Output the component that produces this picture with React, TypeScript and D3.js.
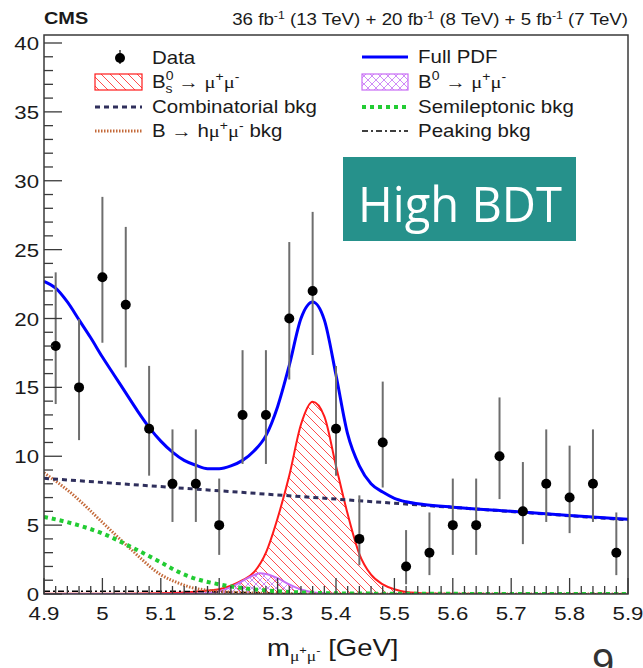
import React from 'react';
import * as d3 from 'd3';

// ---- data ----
const dataMass = [4.92, 4.96, 5.0, 5.04, 5.08, 5.12, 5.16, 5.2, 5.24, 5.28, 5.32, 5.36, 5.4, 5.44, 5.48, 5.52, 5.56, 5.6, 5.64, 5.68, 5.72, 5.76, 5.8, 5.84, 5.88];
const dataCounts = [18, 15, 23, 21, 12, 8, 8, 5, 13, 13, 20, 22, 12, 4, 11, 2, 3, 5, 5, 10, 6, 8, 7, 8, 3];
const dataLow = [13.79, 11.17, 18.24, 16.45, 8.59, 5.23, 5.23, 2.84, 9.44, 9.44, 15.57, 17.35, 8.59, 2.09, 7.73, 0.71, 1.37, 2.84, 2.84, 6.89, 3.62, 5.23, 4.42, 5.23, 1.37];
const dataHigh = [23.35, 19.96, 28.83, 26.65, 16.56, 11.95, 11.95, 8.38, 17.7, 17.7, 25.55, 27.74, 16.56, 7.16, 15.42, 4.64, 5.92, 8.38, 8.38, 14.27, 9.58, 11.95, 10.77, 11.95, 5.92];

const fullMass = [4.9, 4.92, 4.94, 4.96, 4.98, 5.0, 5.02, 5.04, 5.06, 5.08, 5.1, 5.12, 5.14, 5.16, 5.18, 5.2, 5.22, 5.24, 5.26, 5.28, 5.3, 5.32, 5.34, 5.36, 5.38, 5.4, 5.42, 5.44, 5.46, 5.48, 5.5, 5.52, 5.55, 5.6, 5.7, 5.8, 5.9];
const fullVal = [22.7, 22.2, 21.2, 19.9, 18.6, 17.2, 15.9, 14.6, 13.3, 12.1, 11.1, 10.3, 9.7, 9.35, 9.1, 9.1, 9.3, 9.7, 10.4, 11.5, 13.6, 16.6, 20.0, 21.2, 19.9, 15.9, 11.6, 9.3, 8.0, 7.4, 6.95, 6.7, 6.5, 6.3, 6.0, 5.7, 5.42];

const bsMass = [4.9, 5.0, 5.1, 5.14, 5.18, 5.2, 5.22, 5.24, 5.26, 5.28, 5.3, 5.32, 5.34, 5.36, 5.38, 5.4, 5.42, 5.44, 5.46, 5.48, 5.5, 5.52, 5.56, 5.6, 5.9];
const bsVal = [0.01, 0.02, 0.05, 0.1, 0.25, 0.35, 0.6, 1.0, 1.6, 3.0, 5.5, 8.6, 12.3, 13.95, 12.9, 9.3, 5.8, 2.9, 1.4, 0.7, 0.35, 0.15, 0.04, 0.01, 0];

const b0Mass = [4.9, 5.1, 5.16, 5.18, 5.2, 5.22, 5.24, 5.26, 5.27, 5.28, 5.3, 5.32, 5.34, 5.36, 5.38, 5.42, 5.9];
const b0Val = [0, 0, 0.02, 0.06, 0.2, 0.5, 0.95, 1.38, 1.5, 1.45, 1.15, 0.7, 0.33, 0.12, 0.04, 0, 0];

const combMass = [4.9, 5.9];
const combVal = [8.4, 5.38];

const semiMass = [4.9, 4.95, 5.0, 5.05, 5.1, 5.133, 5.15, 5.2, 5.236, 5.3, 5.35, 5.4, 5.5, 5.6, 5.9];
const semiVal = [5.6, 5.1, 4.4, 3.4, 2.3, 1.55, 1.25, 0.7, 0.45, 0.2, 0.1, 0.05, 0.02, 0.01, 0];

const hmmMass = [4.9, 4.95, 5.0, 5.05, 5.1, 5.133, 5.15, 5.2, 5.25, 5.3, 5.4, 5.9];
const hmmVal = [8.8, 7.2, 5.2, 3.2, 1.4, 0.75, 0.5, 0.2, 0.08, 0.03, 0, 0];

const peakMass = [4.9, 5.0, 5.1, 5.2, 5.3, 5.4, 5.9];
const peakVal = [0.2, 0.2, 0.2, 0.15, 0.05, 0, 0];

const yTickValues = [0, 5, 10, 15, 20, 25, 30, 35, 40];
const yTickLabels = ['0', '5', '10', '15', '20', '25', '30', '35', '40'];
const xTickValues = [4.9, 5.0, 5.1, 5.2, 5.3, 5.4, 5.5, 5.6, 5.7, 5.8, 5.9];
const xTickLabels = ['4.9', '5', '5.1', '5.2', '5.3', '5.4', '5.5', '5.6', '5.7', '5.8', '5.9'];

const SX = 1.17;
const FONT = '"Liberation Sans", Arial, Helvetica, sans-serif';
const SERIF = '"Liberation Serif", "Times New Roman", serif';

const C_COMB = '#2f2f5c';
const C_HMM = '#c46a3a';
const C_SEMI = '#22cc33';
const C_BLUE = '#0000ff';
const C_RED = '#ff1a1a';
const C_VIO = '#c86cf5';

function ST({ x, y, size, anchor = 'start', weight = 'normal', fill = '#1a1a1a', children }: any) {
  return (
    <text transform={`translate(${x},${y}) scale(${SX},1)`} fontSize={size} textAnchor={anchor}
      fontWeight={weight} fill={fill} fontFamily={FONT}>{children}</text>
  );
}

export default function App() {
  const x = d3.scaleLinear().domain([4.9, 5.9]).range([44, 628]);
  const y = d3.scaleLinear().domain([0, 40]).range([594, 43]);
  const X0 = 44, X1 = 628, Y0 = 594, YT = 35;

  const mkLine = (ms: number[], vs: number[]) =>
    d3.line<number>().x((_, i) => x(ms[i])).y((_, i) => y(vs[i])).curve(d3.curveMonotoneX)(ms) || '';
  const mkArea = (ms: number[], vs: number[]) =>
    d3.area<number>().x((_, i) => x(ms[i])).y0(y(0)).y1((_, i) => y(vs[i])).curve(d3.curveMonotoneX)(ms) || '';

  const yMinor = d3.range(0, 41);
  const xMinor = d3.range(0, 51).map(i => 4.9 + i * 0.02);

  return (
    <svg width={643} height={668} style={{ position: 'absolute', left: 0, top: 0, background: '#fff' }}>
      <defs>
        <clipPath id="plot">
          <rect x={X0} y={YT} width={X1 - X0} height={Y0 - YT} />
        </clipPath>
        <pattern id="hatchRed" width="9" height="9" patternUnits="userSpaceOnUse">
          <path d="M-1,-1 L10,10 M-10,-1 L1,10 M8,-1 L19,10" stroke="#ff4d4d" strokeWidth="1" />
        </pattern>
        <pattern id="hatchVio" width="8" height="8" patternUnits="userSpaceOnUse">
          <path d="M0,0 L8,8 M0,8 L8,0" stroke="#cf8cf7" strokeWidth="1" />
        </pattern>
      </defs>

      {/* header */}
      <ST x={44} y={24} size={17} weight="bold">CMS</ST>
      <ST x={628} y={25} size={16} anchor="end">
        36 fb<tspan fontSize={10.5} dy={-6}>-1</tspan><tspan dy={6}> (13 TeV) + 20 fb</tspan>
        <tspan fontSize={10.5} dy={-6}>-1</tspan><tspan dy={6}> (8 TeV) + 5 fb</tspan>
        <tspan fontSize={10.5} dy={-6}>-1</tspan><tspan dy={6}> (7 TeV)</tspan>
      </ST>

      {/* curves */}
      <g clipPath="url(#plot)">
        <path d={mkArea(bsMass, bsVal)} fill="url(#hatchRed)" />
        <path d={mkArea(b0Mass, b0Val)} fill="url(#hatchVio)" />
        <path d={mkLine(bsMass, bsVal)} fill="none" stroke={C_RED} strokeWidth={2} />
        <path d={mkLine(b0Mass, b0Val)} fill="none" stroke={C_VIO} strokeWidth={2} />
        <path d={mkLine(peakMass, peakVal)} fill="none" stroke="#000" strokeWidth={1.5} strokeDasharray="6 3 2 3" />
        <path d={mkLine(hmmMass, hmmVal)} fill="none" stroke={C_HMM} strokeWidth={3} strokeDasharray="1.5 1.5" />
        <path d={mkLine(semiMass, semiVal)} fill="none" stroke={C_SEMI} strokeWidth={4} strokeDasharray="4 4" />
        <path d={mkLine(combMass, combVal)} fill="none" stroke={C_COMB} strokeWidth={3} strokeDasharray="5 4" />
        <path d={mkLine(fullMass, fullVal)} fill="none" stroke={C_BLUE} strokeWidth={3} />
        {dataMass.map((m, i) => (
          <g key={i}>
            <line x1={x(m)} x2={x(m)} y1={y(dataLow[i])} y2={y(dataHigh[i])} stroke="#6e6e6e" strokeWidth={2} />
            <circle cx={x(m)} cy={y(dataCounts[i])} r={5} fill="#000" />
          </g>
        ))}
      </g>

      {/* frame */}
      <rect x={X0} y={YT} width={X1 - X0} height={Y0 - YT} fill="none" stroke="#3a3a3a" strokeWidth={1.5} />

      {/* y ticks */}
      {yMinor.map(v => (
        <line key={'yt' + v} x1={X0} x2={X0 + (v % 5 === 0 ? 18 : 9)} y1={y(v)} y2={y(v)} stroke="#3a3a3a" strokeWidth={1.3} />
      ))}
      {yTickValues.map((v, i) => (
        <ST key={'yl' + v} x={39} y={y(v) + 7} size={19} anchor="end">{yTickLabels[i]}</ST>
      ))}
      {/* x ticks */}
      {xMinor.map((m, i) => (
        <line key={'xt' + i} x1={x(m)} x2={x(m)} y1={Y0} y2={Y0 - (i % 5 === 0 ? 16 : 8)} stroke="#3a3a3a" strokeWidth={1.3} />
      ))}
      {xTickValues.map((m, i) => (
        <ST key={'xl' + i} x={x(m)} y={620} size={19} anchor="middle">{xTickLabels[i]}</ST>
      ))}

      {/* x axis title */}
      <ST x={267} y={656} size={23.5}>
        m<tspan fontSize={15} dy={5} fontFamily={SERIF}>μ</tspan><tspan fontSize={11} dy={-7}>+</tspan>
        <tspan fontSize={15} dy={7} fontFamily={SERIF}>μ</tspan><tspan fontSize={11} dy={-7}>-</tspan>
        <tspan dy={2}>{'\u00A0[GeV]'}</tspan>
      </ST>

      {/* legend left column */}
      <line x1={120} x2={120} y1={50} y2={64} stroke="#6e6e6e" strokeWidth={2} />
      <circle cx={120} cy={58} r={5} fill="#000" />
      <ST x={152} y={64} size={17.5}>Data</ST>

      <rect x={95} y={74} width={47} height={16} fill="url(#hatchRed)" stroke={C_RED} strokeWidth={1.2} />
      <ST x={152} y={88} size={17.5}>
        B<tspan fontSize={12} dy={-8}>0</tspan><tspan fontSize={12} dx={-6.7} dy={13}>s</tspan>
        <tspan dy={-5}>{' \u2192 '}</tspan><tspan fontFamily={SERIF}>μ</tspan>
        <tspan fontSize={12} dy={-7}>+</tspan><tspan fontFamily={SERIF} dy={7}>μ</tspan><tspan fontSize={12} dy={-7}>-</tspan>
      </ST>

      <line x1={95} x2={142} y1={107} y2={107} stroke={C_COMB} strokeWidth={3} strokeDasharray="5 4" />
      <ST x={152} y={113} size={17.5}>Combinatorial bkg</ST>

      <line x1={95} x2={142} y1={131} y2={131} stroke={C_HMM} strokeWidth={3} strokeDasharray="1.5 1.5" />
      <ST x={152} y={137} size={17.5}>
        {'B \u2192 h'}<tspan fontFamily={SERIF}>μ</tspan><tspan fontSize={12} dy={-7}>+</tspan>
        <tspan fontFamily={SERIF} dy={7}>μ</tspan><tspan fontSize={12} dy={-7}>-</tspan><tspan dy={7}> bkg</tspan>
      </ST>

      {/* legend right column */}
      <line x1={362} x2={408} y1={57} y2={57} stroke={C_BLUE} strokeWidth={3} />
      <ST x={418} y={63} size={17.5}>Full PDF</ST>

      <rect x={362} y={74} width={46} height={16} fill="url(#hatchVio)" stroke={C_VIO} strokeWidth={1.2} />
      <ST x={418} y={88} size={17.5}>
        B<tspan fontSize={12} dy={-8}>0</tspan><tspan dy={8}>{' \u2192 '}</tspan><tspan fontFamily={SERIF}>μ</tspan>
        <tspan fontSize={12} dy={-7}>+</tspan><tspan fontFamily={SERIF} dy={7}>μ</tspan><tspan fontSize={12} dy={-7}>-</tspan>
      </ST>

      <line x1={362} x2={408} y1={107} y2={107} stroke={C_SEMI} strokeWidth={4} strokeDasharray="4 4" />
      <ST x={418} y={113} size={17.5}>Semileptonic bkg</ST>

      <line x1={362} x2={408} y1={131} y2={131} stroke="#000" strokeWidth={1.5} strokeDasharray="6 3 2 3" />
      <ST x={418} y={137} size={17.5}>Peaking bkg</ST>

      {/* overlay label */}
      <rect x={343} y={157} width={233} height={84} fill="#26918b" />
      <text x={358} y={222} fontSize={50} fill="#fff" fontFamily='"Open Sans", "Noto Sans", sans-serif'
        textLength={204} lengthAdjust="spacingAndGlyphs">High BDT</text>

      {/* page number fragment (cut by the page edge in the reference) */}
      <text x={592} y={677} fontSize={40} fill="#333" fontFamily={FONT}>9</text>
    </svg>
  );
}
